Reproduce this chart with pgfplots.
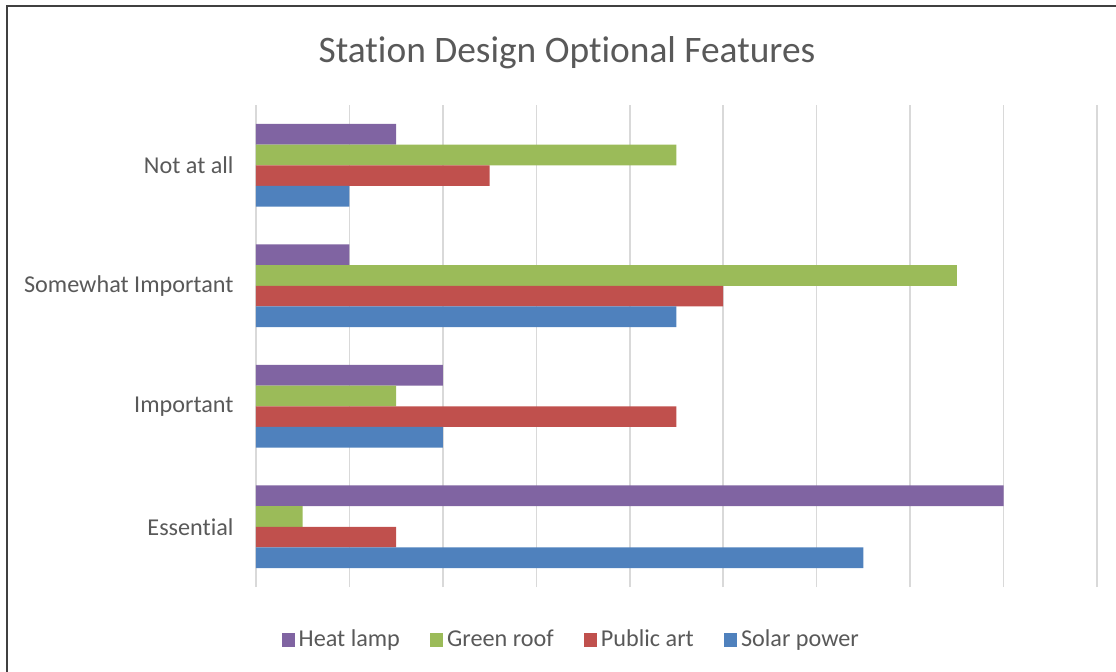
\documentclass[border=0pt]{standalone}
\usepackage{pgfplots}
\pgfplotsset{compat=1.18}
\usepackage{fontspec}
\setmainfont{Carlito}[Ligatures=CommonOff]
\definecolor{cHeat}{HTML}{8064A2}
\definecolor{cGreen}{HTML}{9BBB59}
\definecolor{cArt}{HTML}{C0504D}
\definecolor{cSolar}{HTML}{4F81BD}
\definecolor{cText}{HTML}{595959}
\definecolor{cGrid}{HTML}{D9D9D9}
\definecolor{cFrame}{HTML}{404040}
\begin{document}
\begin{tikzpicture}[x=0.5pt,y=0.5pt]
\useasboundingbox (0,0) rectangle (1116,671);
\draw[cFrame, line width=1pt] (7,-5) -- (7,665) -- (1125,665);
\node[text=cText, font=\fontsize{18.7}{22}\selectfont] at (567,618) {Station Design Optional Features};
\begin{axis}[
  at={(128pt,42pt)}, anchor=south west,
  width=420.5pt, height=241pt, scale only axis,
  xbar, bar width=0.172,
  xmin=0, xmax=18,
  ymin=-0.5, ymax=3.5,
  xtick={0,2,...,18}, xticklabels={},
  xmajorgrids, grid style={cGrid, line width=0.75pt},
  ytick={0,1,2,3},
  yticklabels={Essential,Important,Somewhat Important,Not at all},
  yticklabel style={text=cText, font=\fontsize{12.1}{14}\selectfont, xshift=-7.7pt},
  major tick length=0pt,
  axis line style={draw=none},
  legend style={at={(0.376,-0.11)}, anchor=center, draw=none, legend columns=4,
    font=\fontsize{12.1}{14}\selectfont, text=cText,
    /tikz/every even column/.append style={column sep=13pt}},
  legend image code/.code={\fill[#1] (0pt,-3.3pt) rectangle (6.6pt,3.3pt);},
]
\addplot[fill=cHeat, draw=none, bar shift=0.258] coordinates {(16,0) (4,1) (2,2) (3,3)};
\addlegendentry{Heat lamp}
\addplot[fill=cGreen, draw=none, bar shift=0.086] coordinates {(1,0) (3,1) (15,2) (9,3)};
\addlegendentry{Green roof}
\addplot[fill=cArt, draw=none, bar shift=-0.086] coordinates {(3,0) (9,1) (10,2) (5,3)};
\addlegendentry{Public art}
\addplot[fill=cSolar, draw=none, bar shift=-0.258] coordinates {(13,0) (4,1) (9,2) (2,3)};
\addlegendentry{Solar power}
\end{axis}
\end{tikzpicture}
\end{document}
